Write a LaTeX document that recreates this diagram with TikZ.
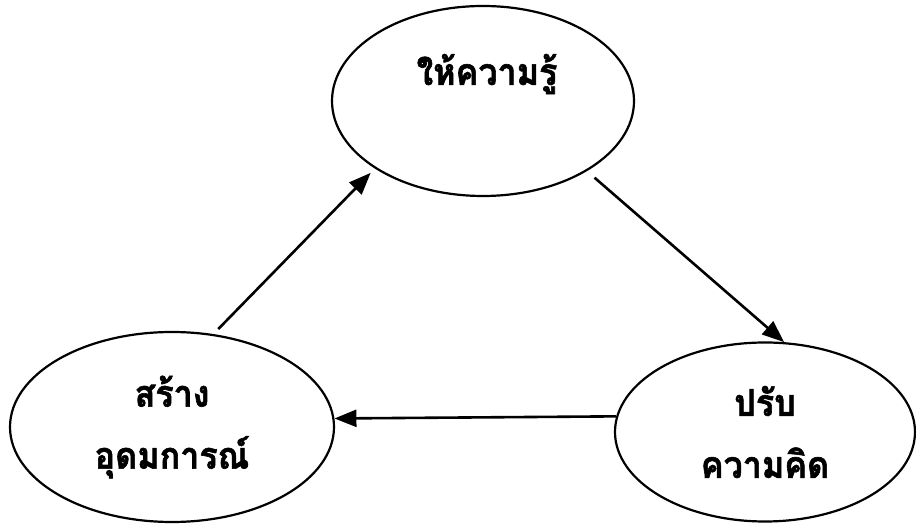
\documentclass[tikz,border=0pt]{standalone}
\usepackage{fontspec}
\newfontfamily\thaifont[Script=Thai,FakeStretch=0.92,BoldFeatures={FakeBold=1.6}]{Loma}
\usetikzlibrary{positioning,calc,arrows.meta,shapes.geometric}

\begin{document}
\begin{tikzpicture}[x=1pt,y=1pt,
    thaitxt/.style={font=\thaifont\bfseries\fontsize{37}{62}\selectfont},
    bubble/.style={draw,line width=2.2pt,ellipse,inner sep=0pt,align=center,thaitxt},
    flow/.style={line width=2.6pt,-{Triangle[length=22pt,width=17pt]}}]
      \useasboundingbox (0,0) rectangle (916,524);

      % the three ellipses
      \node[bubble,minimum width=302pt,minimum height=190pt] (know)   at (483,423) {};
      \node[bubble,minimum width=324pt,minimum height=190pt] (ideal)  at (172,97)  {สร้าง\\อุดมการณ์};
      \node[bubble,minimum width=300pt,minimum height=179pt] (adjust) at (765,92)  {ปรับ\\ความคิด};
      \node[thaitxt] (knowtxt) at ($(know)+(4,27)$) {ให้ความรู้};

      % connectors
      \draw[flow,shorten <=7pt,shorten >=6pt] (ideal.66) -- (know.212);
      \draw[flow,shorten <=10pt] (know.326) -- (adjust.78);
      \draw[flow] (adjust.174) -- (ideal.3.5);
\end{tikzpicture}
\end{document}
